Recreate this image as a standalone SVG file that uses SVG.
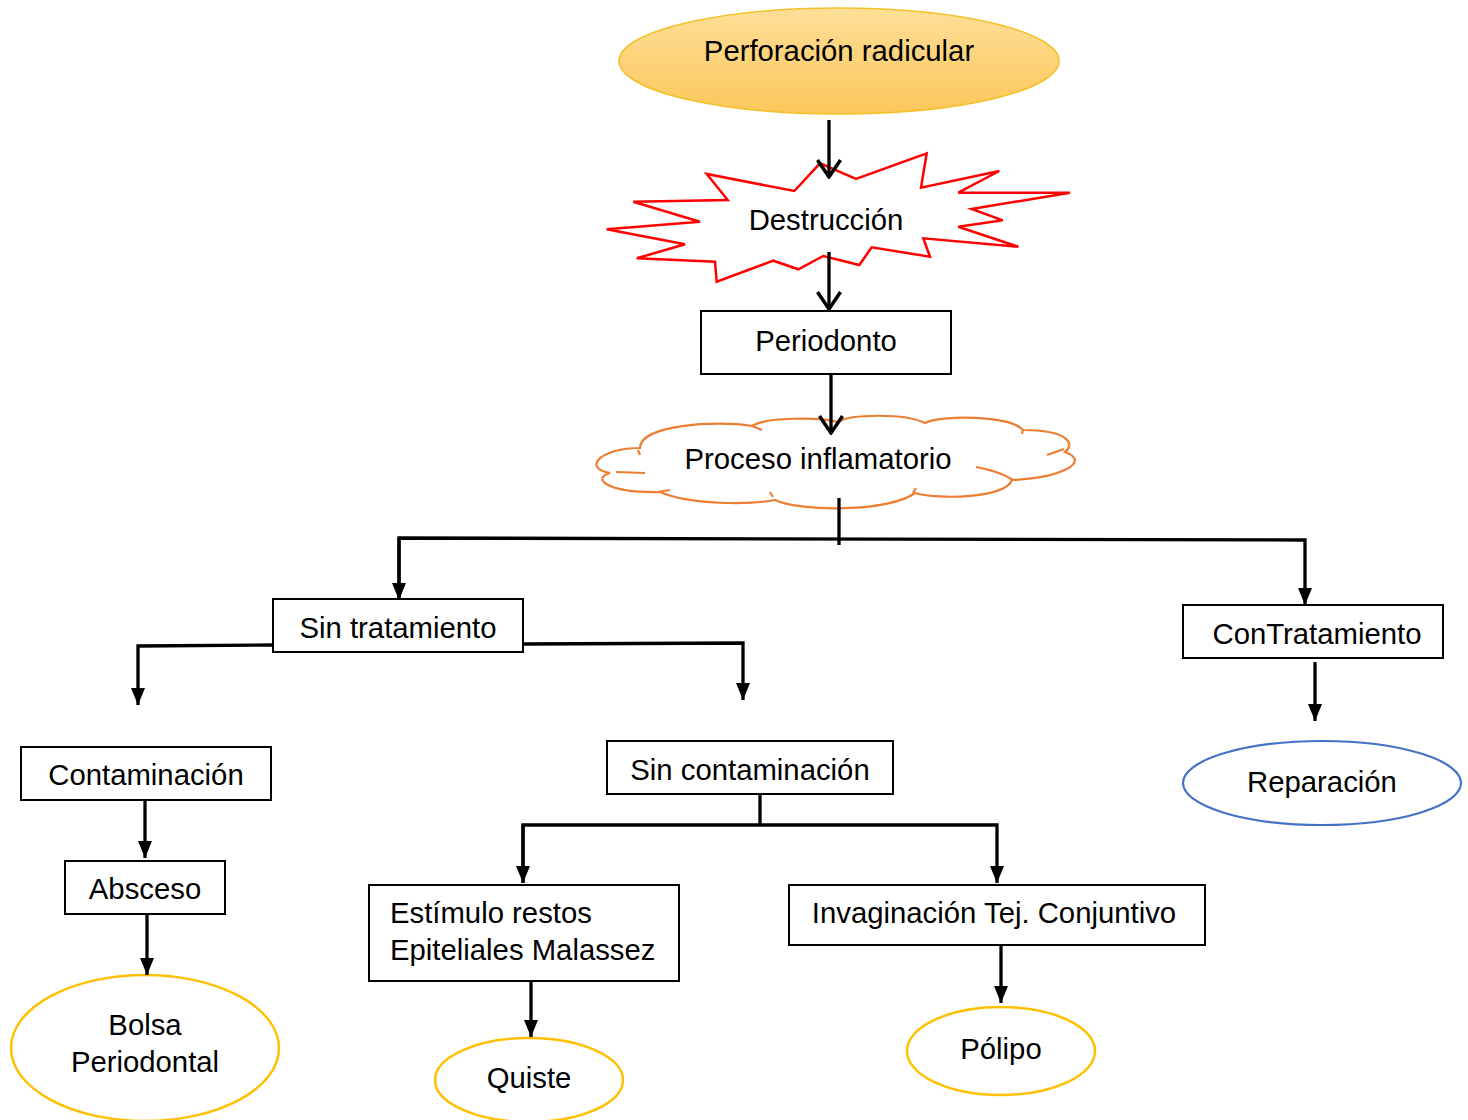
<svg xmlns="http://www.w3.org/2000/svg" width="1468" height="1120" viewBox="0 0 1468 1120">
<defs>
  <linearGradient id="gold" x1="0" y1="0" x2="0" y2="1">
    <stop offset="0" stop-color="#fedf98"/>
    <stop offset="1" stop-color="#fbc75a"/>
  </linearGradient>
  <marker id="tri" markerUnits="userSpaceOnUse" viewBox="0 0 17 14" refX="17" refY="7" markerWidth="17" markerHeight="14" orient="auto">
    <path d="M0,0 L17,7 L0,14 Z" fill="#000"/>
  </marker>
  <marker id="chev" markerUnits="userSpaceOnUse" viewBox="0 0 20 26" refX="18" refY="13" markerWidth="20" markerHeight="26" orient="auto">
    <path d="M1,1.5 L18,13 L1,24.5" fill="none" stroke="#000" stroke-width="3.5"/>
  </marker>
</defs>
<style>
  text { font-family: "Liberation Sans", Arial, sans-serif; font-size: 29.3px; fill: #000; }
  .c { text-anchor: middle; }
  .box { fill: #fff; stroke: #000; stroke-width: 2; }
  .conn { fill: none; stroke: #000; stroke-width: 3.3; }
  .yel { fill: #fff; stroke: #ffc000; stroke-width: 2.5; }
</style>

<g id="perforacion">
  <ellipse cx="839" cy="61" rx="220" ry="53" fill="url(#gold)" stroke="#f4c02a" stroke-width="1.5"/>
  <text class="c" x="839" y="61">Perforación radicular</text>
</g>

<g id="destruccion">
  <polygon points="794.3,191 820,163.3 856,179 926.7,153.3 921,187.7 999.3,171 958.3,192.7 1070,192.7 971.7,209 1002.7,220.3 958.3,226.7 1018.3,246.7 923.3,238.3 930,256.7 871.7,247.3 859.3,265 823.3,256 798.3,269.3 773.3,260.7 716.7,281.7 715,261.7 636.7,258.3 685,244.3 606.7,229.3 700,221.7 633.3,201.7 727.7,200 706.7,174" fill="#fff" stroke="#ff0000" stroke-width="2.5" stroke-linejoin="miter"/>
  <text class="c" x="826" y="230">Destrucción</text>
</g>

<g id="periodonto">
  <rect class="box" x="701" y="311" width="250" height="63"/>
  <text class="c" x="826" y="351">Periodonto</text>
</g>

<g id="proceso">
  <path d="M640,448 C600,448 582,468 610,473 C592,478 605,493 660,492 C690,505 750,505 775,500 C800,512 890,512 915,493 C940,500 1005,498 1012,480 C1060,478 1092,462 1065,452 C1075,445 1070,430 1023,430 C1010,415 940,415 925,423 C905,413 850,414 838,422 C820,417 765,417 752,426 C715,420 640,425 640,448 Z" fill="#fff" stroke="#ed7d31" stroke-width="2.2"/>
  <path d="M976,467 C992,470 1004,474 1013,480 M1047,455 L1064,449 M1023,430 L1022,434 M913,493 L916,488 M773,497 L770,492 M657,492 L670,490 M616,472 L645,473 M638,450 L640,455 M762,430 L752,426" fill="none" stroke="#ed7d31" stroke-width="2.2"/>
  <text class="c" x="818" y="469">Proceso inflamatorio</text>
</g>

<g id="sin-tratamiento">
  <rect class="box" x="273" y="599" width="250" height="53"/>
  <text class="c" x="398" y="638">Sin tratamiento</text>
</g>

<g id="con-tratamiento">
  <rect class="box" x="1183" y="605" width="260" height="53"/>
  <text class="c" x="1317" y="644">ConTratamiento</text>
</g>

<g id="reparacion">
  <ellipse cx="1322" cy="783" rx="139" ry="42" fill="#fff" stroke="#4472c4" stroke-width="2.2"/>
  <text class="c" x="1322" y="792">Reparación</text>
</g>

<g id="contaminacion">
  <rect class="box" x="21" y="747" width="250" height="53"/>
  <text class="c" x="146" y="785">Contaminación</text>
</g>

<g id="absceso">
  <rect class="box" x="65" y="861" width="160" height="53"/>
  <text class="c" x="145" y="899">Absceso</text>
</g>

<g id="bolsa">
  <ellipse class="yel" cx="145" cy="1048" rx="134" ry="73"/>
  <text class="c" x="145" y="1035">Bolsa</text>
  <text class="c" x="145" y="1072">Periodontal</text>
</g>

<g id="sin-contaminacion">
  <rect class="box" x="607" y="741" width="286" height="53"/>
  <text class="c" x="750" y="780">Sin contaminación</text>
</g>

<g id="estimulo">
  <rect class="box" x="369" y="885" width="310" height="96"/>
  <text x="390" y="923">Estímulo restos</text>
  <text x="390" y="960">Epiteliales Malassez</text>
</g>

<g id="quiste">
  <ellipse class="yel" cx="529" cy="1080" rx="94" ry="42"/>
  <text class="c" x="529" y="1088">Quiste</text>
</g>

<g id="invaginacion">
  <rect class="box" x="789" y="885" width="416" height="60"/>
  <text class="c" x="994" y="923">Invaginación Tej. Conjuntivo</text>
</g>

<g id="polipo">
  <ellipse class="yel" cx="1001" cy="1051" rx="94" ry="44"/>
  <text class="c" x="1001" y="1059">Pólipo</text>
</g>

<g id="connectors">
  <path class="conn" d="M829,120 L829,177" marker-end="url(#chev)"/>
  <path class="conn" d="M829,252 L829,309" marker-end="url(#chev)"/>
  <path class="conn" d="M831,375 L831,433" marker-end="url(#chev)"/>
  <path class="conn" d="M839,498 L839,545"/>
  <path class="conn" d="M399,600 L399,538 L1305,540 L1305,605" marker-end="url(#tri)"/>
  <path class="conn" d="M399,538 L399,600" marker-end="url(#tri)"/>
  <path class="conn" d="M273,645 L138,646 L138,705" marker-end="url(#tri)"/>
  <path class="conn" d="M523,644 L743,643 L743,700" marker-end="url(#tri)"/>
  <path class="conn" d="M1315,662 L1315,721" marker-end="url(#tri)"/>
  <path class="conn" d="M145,800 L145,858" marker-end="url(#tri)"/>
  <path class="conn" d="M147,914 L147,975" marker-end="url(#tri)"/>
  <path class="conn" d="M760,794 L760,825"/>
  <path class="conn" d="M523,883 L523,825 L997,825 L997,883" marker-end="url(#tri)"/>
  <path class="conn" d="M523,825 L523,883" marker-end="url(#tri)"/>
  <path class="conn" d="M531,981 L531,1037" marker-end="url(#tri)"/>
  <path class="conn" d="M1001,945 L1001,1003" marker-end="url(#tri)"/>
</g>
</svg>
